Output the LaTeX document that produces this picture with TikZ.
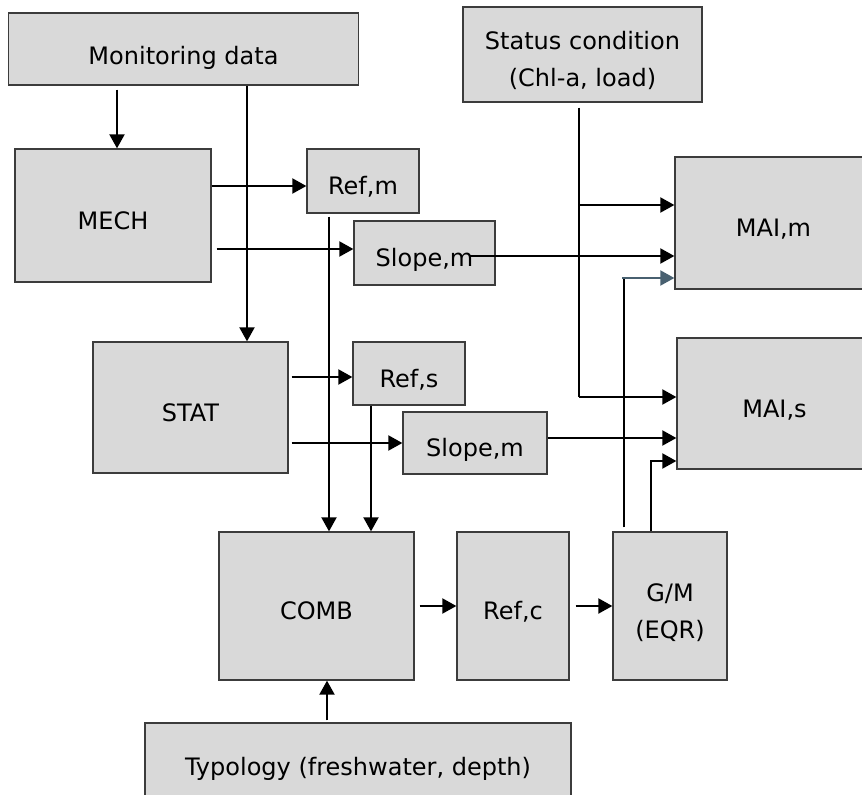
\documentclass[tikz,border=0pt]{standalone}
\usepackage{fontspec}
\setmainfont{DejaVu Sans}
\usetikzlibrary{arrows.meta,calc}
\definecolor{boxfill}{RGB}{217,217,217}
\definecolor{boxline}{RGB}{60,60,60}
\definecolor{slate}{RGB}{72,96,112}
\begin{document}
\begin{tikzpicture}[x=1pt,y=-1pt,
  box/.style={draw=boxline,fill=boxfill,line width=1.3pt,inner sep=0pt,align=center,
    font=\fontsize{24}{37}\selectfont,text height=34pt,text depth=6.5pt},
  twoline/.style={text height=71pt,text depth=6.5pt},
  ln/.style={line width=2pt,draw=black},
  arr/.style={ln,-{Triangle[length=14pt,width=15pt]}}]
\useasboundingbox (0,0) rectangle (862,795);
% boxes
\node[box,minimum width=350,minimum height=72,text height=38pt] (mon) at (183.5,49) {Monitoring data};
\node[box,twoline,minimum width=239,minimum height=95] (status) at (582.5,54.5) {Status condition\\(Chl-a, load)};
\node[box,minimum width=196,minimum height=133] (mech) at (113,215.5) {MECH};
\node[box,minimum width=112,minimum height=64] (refm) at (363,181) {Ref,m};
\node[box,minimum width=141,minimum height=64] (slopem) at (424.5,253) {Slope,m};
\node[box,minimum width=197,minimum height=132] (maim) at (773.5,223) {MAI,m};
\node[box,minimum width=195,minimum height=131] (stat) at (190.5,407.5) {STAT};
\node[box,minimum width=112,minimum height=63] (refs) at (409,373.5) {Ref,s};
\node[box,minimum width=144,minimum height=62] (slopes) at (475,443) {Slope,m};
\node[box,minimum width=195,minimum height=131] (mais) at (774.5,403.5) {MAI,s};
\node[box,minimum width=195,minimum height=148] (comb) at (316.5,606) {COMB};
\node[box,minimum width=112,minimum height=148] (refc) at (513,606) {Ref,c};
\node[box,twoline,minimum width=114,minimum height=148] (gm) at (670,606) {G/M\\(EQR)};
\node[box,minimum width=426,minimum height=78] (typo) at (358,762) {Typology (freshwater, depth)};
% helper coordinates
\coordinate (xA) at (117,0);
\coordinate (xB) at (247,0);
\coordinate (xC) at (329,0);
\coordinate (xD) at (371,0);
\coordinate (xE) at (579,0);
\coordinate (xF) at (624,0);
\coordinate (xG) at (651,0);
\coordinate (xH) at (327,0);
\coordinate (yA) at (0,186);
\coordinate (yB) at (0,249);
\coordinate (yC) at (0,256);
\coordinate (yD) at (0,205);
\coordinate (yE) at (0,397);
\coordinate (yF) at (0,278);
\coordinate (yG) at (0,461);
\coordinate (yH) at (0,377);
\coordinate (yI) at (0,443);
\coordinate (yJ) at (0,438);
% connectors
\draw[arr] ([yshift=-4pt]mon.south -| xA) -- (mech.north -| xA);
\draw[arr] (mon.south -| xB) -- (stat.north -| xB);
\draw[arr] (mech.east |- yA) -- (refm.west |- yA);
\draw[arr] ([xshift=5pt]mech.east |- yB) -- (slopem.west |- yB);
\draw[arr] ([yshift=-3pt]refm.south -| xC) -- (comb.north -| xC);
\draw[arr] ([xshift=-26pt]slopem.east |- yC) -- (maim.west |- yC);
\coordinate (j1) at (xE |- yD);
\draw[ln] ([yshift=-5pt]status.south -| xE) -- (xE |- yE);
\draw[arr] (j1) -- (maim.west |- yD);
\draw[arr] (xE |- yE) -- (mais.west |- yE);
\coordinate (j2) at (xF |- yF);
\draw[ln] ([yshift=4pt]gm.north -| xF) -- (j2);
\draw[arr,draw=slate,-{Triangle[length=14pt,width=15pt,fill=slate]}] ([xshift=-2pt]j2) -- (maim.west |- yF);
\draw[arr] (gm.north -| xG) -- (xG |- yG) -- (mais.west |- yG);
\draw[arr] ([xshift=3pt]stat.east |- yH) -- (refs.west |- yH);
\draw[arr] ([xshift=3pt]stat.east |- yI) -- (slopes.west |- yI);
\draw[arr] (refs.south -| xD) -- (comb.north -| xD);
\draw[arr] (slopes.east |- yJ) -- (mais.west |- yJ);
\draw[arr] ([xshift=5pt]comb.east) -- (refc.west);
\draw[arr] ([xshift=6pt]refc.east) -- (gm.west);
\draw[arr] ([yshift=2pt]typo.north -| xH) -- (comb.south -| xH);
\end{tikzpicture}
\end{document}
